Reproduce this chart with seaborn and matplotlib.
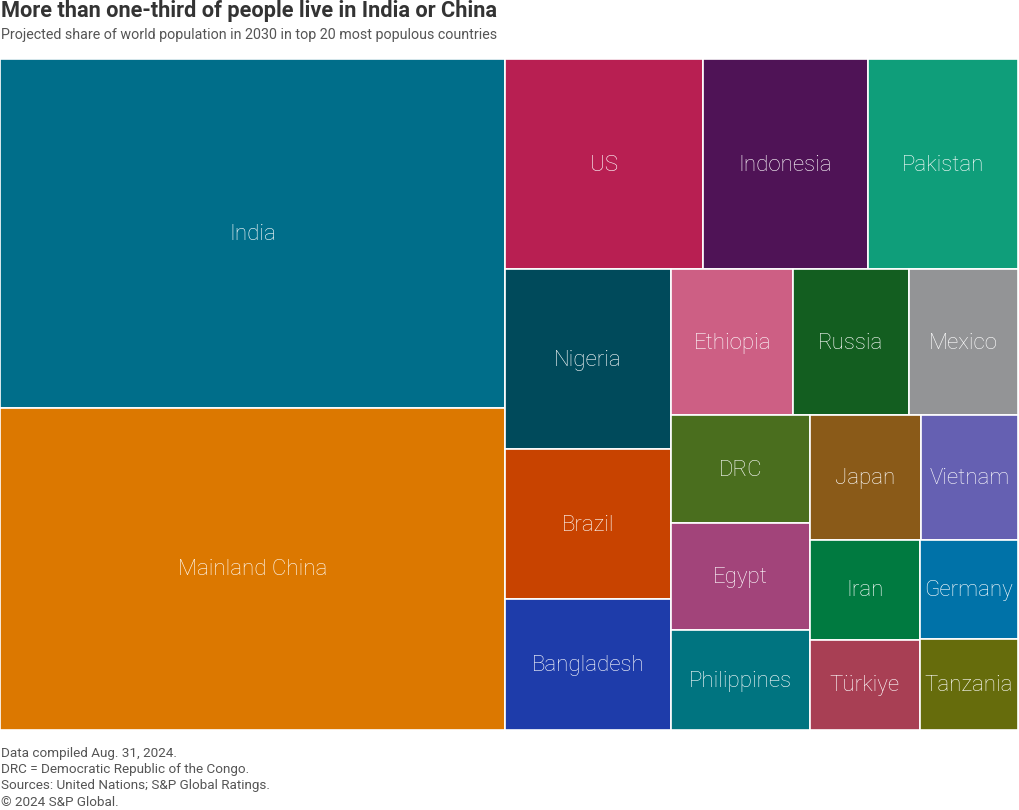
import math
import matplotlib
matplotlib.use("Agg")
import matplotlib.pyplot as plt
from matplotlib.patches import Rectangle
import seaborn as sns

# data: projected 2030 population (millions), top 20 countries
countries = ["India", "Mainland China", "US", "Indonesia", "Pakistan", "Nigeria",
             "Brazil", "Bangladesh", "Ethiopia", "Russia", "Mexico", "DRC", "Egypt",
             "Philippines", "Japan", "Vietnam", "Iran", "Türkiye", "Germany", "Tanzania"]
population = [1514, 1397, 357, 298, 271, 257, 214, 187, 153, 145, 137, 129, 128,
              119, 118, 104, 94, 85, 84, 77]
colors = ["#006e8a", "#dc7800", "#b81f52", "#4f1356", "#0f9e7a", "#004a5b",
          "#c84300", "#1e3caa", "#cd5f84", "#135e20", "#939496", "#4a6e1e",
          "#a2447a", "#007480", "#8a5a18", "#6560b2", "#007a40", "#a83f54",
          "#0072a8", "#666c0c"]

sns.set_theme(style="white")
plt.rcParams['font.family'] = ['Roboto', 'DejaVu Sans']

W, H = 1018.0, 671.0


# squarified treemap (Bruls et al., worst aspect ratio rule)
def squarify(values, x0, y0, x1, y1, ratio=1.0):
    rects = [None] * len(values)
    total = float(sum(values))
    i0 = 0
    n = len(values)
    while i0 < n:
        dx, dy = x1 - x0, y1 - y0
        i1 = i0
        s = values[i1]
        i1 += 1
        mn = mx = s
        alpha = max(dy / dx, dx / dy) / (total * ratio)
        beta = s * s * alpha
        best = max(mx / beta, beta / mn)
        while i1 < n:
            v = values[i1]
            s += v
            mn = min(mn, v)
            mx = max(mx, v)
            beta = s * s * alpha
            r = max(mx / beta, beta / mn)
            if r > best:
                s -= v
                break
            best = r
            i1 += 1
        if dx < dy:
            # row across the top
            h = dy * s / total if dy else 0
            cx = x0
            for k in range(i0, i1):
                w = dx * values[k] / s
                rects[k] = (cx, y0, w, h)
                cx += w
            y0 += h
        else:
            # column on the left
            w = dx * s / total if dx else 0
            cy = y0
            for k in range(i0, i1):
                h = dy * values[k] / s
                rects[k] = (x0, cy, w, h)
                cy += h
            x0 += w
        total -= s
        i0 = i1
    return rects


rects = squarify(population, 0, 0, W, H)

fig = plt.figure(figsize=(10.2, 8.1), dpi=100)
ax = fig.add_axes([0, 80 / 810, W / 1020, H / 810])
ax.set_xlim(0, W)
ax.set_ylim(H, 0)
ax.axis("off")

for name, col, (x, y, w, h) in zip(countries, colors, rects):
    ax.add_patch(Rectangle((x, y), w, h, facecolor=col, edgecolor="white", linewidth=1.2))
    ax.text(x + w / 2, y + h / 2 + 1, name, ha="center", va="center", color="white",
            fontsize=16, fontweight="light")

fig.text(0.001, 1 - 11 / 810, "More than one-third of people live in India or China",
         ha="left", va="center", fontsize=15.7, fontweight="bold", color="#333333")
fig.text(0.001, 1 - 35 / 810, "Projected share of world population in 2030 in top 20 most populous countries",
         ha="left", va="center", fontsize=10.3, color="#555555")

notes = ["Data compiled Aug. 31, 2024.",
         "DRC = Democratic Republic of the Congo.",
         "Sources: United Nations; S&P Global Ratings.",
         "© 2024 S&P Global."]
for i, line in enumerate(notes):
    fig.text(0.001, 1 - (754 + 16 * i) / 810, line, ha="left", va="center",
             fontsize=9.7, color="#555555")

fig.savefig("out.png", dpi=100)
